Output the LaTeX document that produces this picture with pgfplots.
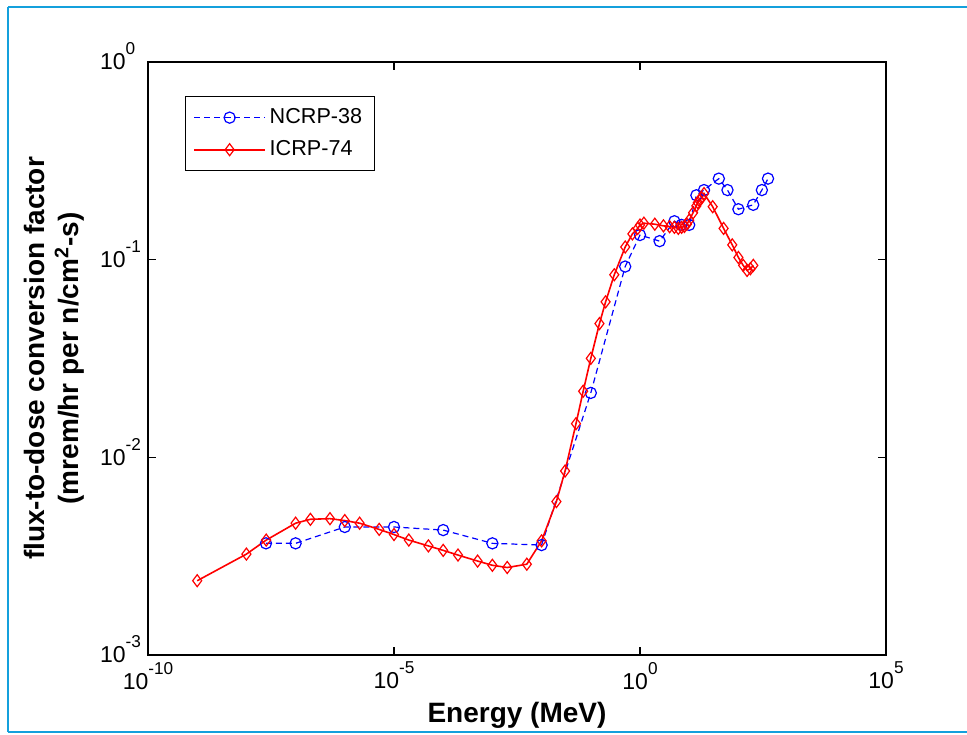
\documentclass[border=0pt]{standalone}
\usepackage{pgfplots}
\pgfplotsset{compat=1.18}
\usepackage{fontspec}
\setmainfont{Liberation Sans}
\definecolor{frameblue}{RGB}{20,160,220}
\newcommand\xsci[1]{10\raisebox{0.65em}{\fontsize{8.6}{8.6}\selectfont #1}}
\newcommand\ysci[1]{10\rlap{\smash{\raisebox{0.65em}{\fontsize{8.6}{8.6}\selectfont #1}}}}

\pgfplotstableread{
E v
2.5e-8 3.673e-3
1e-7 3.673e-3
1e-6 4.444e-3
1e-5 4.444e-3
1e-4 4.286e-3
1e-3 3.673e-3
1e-2 3.600e-3
0.1 2.118e-2
0.5 9.231e-2
1 0.1333
2.5 0.1241
5 0.1565
7 0.1500
10 0.1500
14 0.2118
20 0.2250
40 0.2571
60 0.2250
100 0.1800
200 0.1895
300 0.2250
400 0.2571
}\ncrp

\pgfplotstableread{
E v
1e-9 2.376e-3
1e-8 3.240e-3
2.53e-8 3.816e-3
1e-7 4.644e-3
2e-7 4.860e-3
5e-7 4.896e-3
1e-6 4.788e-3
2e-6 4.644e-3
5e-6 4.320e-3
1e-5 4.068e-3
2e-5 3.816e-3
5e-5 3.564e-3
1e-4 3.384e-3
2e-4 3.204e-3
5e-4 2.988e-3
1e-3 2.844e-3
2e-3 2.772e-3
5e-3 2.880e-3
1e-2 3.780e-3
2e-2 5.976e-3
3e-2 8.532e-3
5e-2 1.4796e-2
7e-2 2.160e-2
0.1 3.168e-2
0.15 4.752e-2
0.2 6.120e-2
0.3 8.388e-2
0.5 0.11592
0.7 0.1350
0.9 0.1440
1 0.14976
1.2 0.1530
2 0.1512
3 0.14832
4 0.14688
5 0.1458
6 0.1440
7 0.1458
8 0.14724
9 0.1512
10 0.1584
12 0.1728
14 0.1872
15 0.1944
16 0.1998
18 0.2052
20 0.2160
30 0.1854
50 0.1440
75 0.1188
100 0.1026
125 0.0936
150 0.0882
175 0.0900
201 0.0936
}\icrp

\begin{document}
\begin{tikzpicture}
\useasboundingbox (0,0) rectangle (483.5pt,-367pt);
\draw[frameblue, line width=1pt] (4pt,-3.5pt) -- (483.5pt,-3.5pt);
\draw[frameblue, line width=1pt] (4pt,-3.5pt) -- (4pt,-366pt);
\draw[frameblue, line width=1pt] (4pt,-366pt) -- (483.5pt,-366pt);
\begin{axis}[
  at={(74pt,-327.5pt)}, anchor=south west,
  scale only axis, width=369pt, height=296.5pt,
  xmode=log, ymode=log, log basis x=10, log basis y=10,
  xmin=1e-10, xmax=1e5, ymin=1e-3, ymax=1,
  xtick={1e-10,1e-5,1,1e5},
  xticklabels={\xsci{-10},\xsci{-5},\xsci{0},\xsci{5}},
  ytick={1e-3,1e-2,1e-1,1},
  yticklabels={\ysci{-3},\ysci{-2},\ysci{-1},\ysci{0}},
  xminorticks=false,
  tick align=inside,
  major tick length=4pt, minor tick length=2pt,
  axis line style={line width=0.7pt},
  every tick/.style={black, line width=0.6pt},
  ticklabel style={font=\fontsize{11.5}{13}\selectfont},
  yticklabel style={inner sep=0pt, xshift=-11pt},
  xlabel={Energy (MeV)},
  xlabel style={font=\bfseries\fontsize{14}{16}\selectfont, at={(axis description cs:0.5,0)}, anchor=base, yshift=-33.5pt},
  ylabel={flux-to-dose conversion factor\\(mrem/hr per n/cm\textsuperscript{2}-s)},
  ylabel style={font=\bfseries\fontsize{14}{17}\selectfont, align=center, at={(axis description cs:-0.0854,0.5)}, anchor=south, rotate=0, inner sep=0pt},
  legend style={at={(rel axis cs:0.0501,0.9427)}, anchor=north west, draw=black, line width=0.6pt,
    font=\fontsize{10.8}{12}\selectfont, inner xsep=4pt, inner ysep=4pt, row sep=3pt},
  legend cell align=left,
  legend image code/.code={\draw[mark repeat=2,mark phase=2] plot coordinates {(0cm,0cm) (0.62cm,0cm) (1.24cm,0cm)};},
]
\addplot[blue, line width=0.6pt, dash pattern=on 3pt off 2pt, mark=o, mark size=2.8pt, mark options={solid}] table[x=E,y=v] {\ncrp};
\addplot[red, line width=0.8pt, mark=diamond, mark size=3pt, mark options={solid, line width=0.6pt}] table[x=E,y=v] {\icrp};
\legend{NCRP-38, ICRP-74}
\end{axis}
\end{tikzpicture}
\end{document}
